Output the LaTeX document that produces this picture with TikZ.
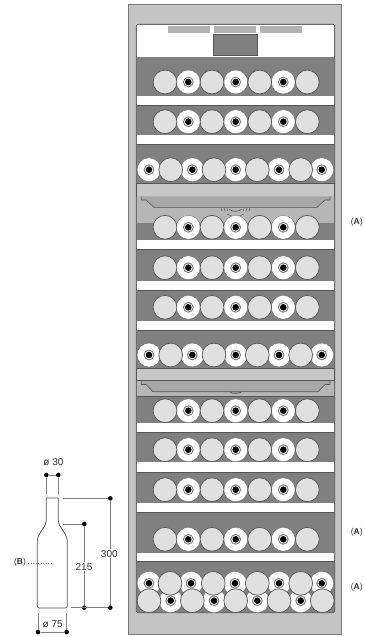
\documentclass[tikz,border=0pt]{standalone}
\usepackage{fontspec}
\setmainfont{Liberation Sans}
\definecolor{outerc}{HTML}{C4C4C4}
\definecolor{darkc}{HTML}{808080}
\definecolor{lightc}{HTML}{E0E0E0}
\definecolor{bandc}{HTML}{C8C8C8}
\definecolor{lowc}{HTML}{B6B6B6}
\definecolor{trayc}{HTML}{A8A8A8}
\definecolor{linec}{HTML}{555555}
\definecolor{dimc}{HTML}{808080}
\tikzset{
 dimdot/.style={circle,fill=black,inner sep=0pt,minimum size=4.6pt},
 dimline/.style={draw=dimc,line width=.6pt},
 lab/.style={font=\fontsize{10}{12}\selectfont,text=black!80,inner sep=1pt},
 sidelab/.style={font=\fontsize{8.5}{10}\selectfont,text=black!80,inner sep=0pt},
}
\newcommand{\myfullb}[2]{\fill[lightc,draw=linec,line width=.7pt] (#1,#2) circle[radius=11.9];}
\newcommand{\myendb}[2]{%
 \fill[white,draw=darkc!80!black,line width=.3pt] (#1,#2) circle[radius=11.9];
 \fill[darkc] (#1,#2) circle[radius=5.4];
 \fill[white] (#1,#2) circle[radius=4.2];
 \fill[black] (#1,#2) circle[radius=3.3];}
\newcommand{\rowseven}[1]{%
 \foreach \x in {188.3,235.7,283.3} {\myendb{\x}{#1}}
 \foreach \x in {165,212,259.7,307.3} {\myfullb{\x}{#1}}}
\newcommand{\rownine}[1]{%
 \foreach \x in {149,192.3,235.7,279,321.7} {\myendb{\x}{#1}}
 \foreach \x in {170.7,214,257.3,300.7} {\myfullb{\x}{#1}}}
\begin{document}
\begin{tikzpicture}[x=1pt,y=-1pt]
\useasboundingbox (0,0) rectangle (364,637);
% cabinet
\fill[outerc,draw=linec!80,line width=.7pt] (128.7,4) rectangle (341.7,634);
\fill[darkc,draw=linec,line width=.7pt,rounded corners=1.5pt] (136.3,24.3) rectangle (334.7,612.7);
% top panel
\fill[white] (136.8,24.8) rectangle (334.2,57.3);
\foreach \a/\b in {168/210.3,214.3/256.3,260.3/302.3} {\fill[black!30] (\a,26) rectangle (\b,33);}
\fill[darkc,draw=linec,line width=.5pt] (213.7,34) rectangle (257.3,55.7);
% white shelves
\foreach \a/\b in {95.5/104.8,135/144.3,239.7/249.5,280.5/290,320.5/330,423.3/432.7,462.3/472,502.7/511.9,552.6/561.7} {
 \fill[white] (136.8,\a) rectangle (334.2,\b);
 \draw[linec,line width=.6pt] (136.3,\b) -- (334.7,\b);}
% light bands and trays
\fill[bandc,draw=linec,line width=.6pt] (136.3,183.6) rectangle (334.7,196);
\fill[lowc] (136.8,196.4) rectangle (334.2,223.3);
\fill[trayc,draw=linec,line width=.6pt] (141.3,196.5) -- (141.3,200) -- (146,200) -- (154,207.3) -- (317,207.3) -- (325,200) -- (330,200) -- (330,196.5);
\fill[bandc,draw=linec,line width=.6pt] (136.3,368.3) rectangle (334.7,380.5);
\fill[lowc] (136.8,380.9) rectangle (334.2,396.3);
\draw[linec,line width=.6pt] (136.3,396.3) -- (334.7,396.3);
\fill[trayc,draw=linec,line width=.6pt] (141.3,381) -- (141.3,384.5) -- (146,384.5) -- (153,391.7) -- (318,391.7) -- (325,384.5) -- (330,384.5) -- (330,381);
\draw[linec,line width=.8pt] (230,392.3) to[bend right=20] (241,392.3);
% sensor arcs
\draw[linec,line width=.7pt] (229.5,209.5) to[bend right=30] (241.5,209.5);
\draw[linec,line width=.5pt] (221,208) -- (222,211) (224,208) -- (225,211) (227,208) -- (227.5,211)
 (244,208) -- (243.5,211) (247,208) -- (246,211) (250,208) -- (249,211);
\draw[linec,line width=.5pt] (227,214) to[bend right=30] (244,214);
% bottles
\foreach \y in {82,121.7,227.3,267.7,307.3,410.7,449.7,489.7,539.3} {\rowseven{\y}}
\foreach \y in {169.7,355} {\rownine{\y}}
% stacked rows
\foreach \x in {149,191,235,279,321.7} {\myendb{\x}{583.3}}
\foreach \x in {170.7,214,257.3,300.7} {\myendb{\x}{600.7}}
\foreach \x in {170,213.3,257.3,300.7} {\myfullb{\x}{583.3}}
\foreach \x in {149,192.3,235.7,279,322.3} {\myfullb{\x}{600.7}}
% labels A
\node[sidelab] (a1) at (356.7,222) {(\textbf{A})};
\node[sidelab] (a2) at (356.7,532) {(\textbf{A})};
\node[sidelab] (a3) at (356.7,587.7) {(\textbf{A})};
% bottle
\draw[linec,line width=.8pt,fill=white,line join=round]
 (52.3,498) -- (46.3,498) -- (46.3,521) .. controls (46.3,527) and (38,532) .. (37.3,541) -- (37.3,606) .. controls (37.3,607.5) and (38,608) .. (39.5,608) -- (65,608) .. controls (66.5,608) and (67.3,607.5) .. (67.3,606) -- (67.3,541) .. controls (66.6,532) and (58.3,527) .. (58.3,521) -- (58.3,498) -- cycle;
% dimensions
\node[dimdot] (n1) at (46.3,475) {};
\node[dimdot] (n2) at (58.3,475) {};
\coordinate (n1e) at (46.3,493.5);
\coordinate (n2e) at (58.3,493.5);
\draw[dimline] (n1) -- (n1e) (n2) -- (n2e) (n1) -- (n2);
\node[lab] (t30) at (53.5,462) {ø 30};
\node[dimdot] (h1) at (110.3,498.3) {};
\node[dimdot] (h2) at (110.3,607.7) {};
\node[dimdot] (m1) at (84.3,524) {};
\node[dimdot] (m2) at (84.3,607.7) {};
\coordinate (h1s) at (62.7,498.3);
\coordinate (m1s) at (63.3,524);
\coordinate (bs) at (71,607.7);
\draw[dimline] (h1s) -- (h1) (m1s) -- (m1) (bs) -- (h2) (h1) -- (h2) (m1) -- (m2);
\node[lab,fill=white] (t300) at (109.3,553.7) {300};
\node[lab,fill=white] (t215) at (84,566.7) {215};
\node[dimdot] (b1) at (38,632) {};
\node[dimdot] (b2) at (66.7,632) {};
\coordinate (b1e) at (38,613.3);
\coordinate (b2e) at (66.7,613.3);
\draw[dimline] (b1) -- (b1e) (b2) -- (b2e) (b1) -- (b2);
\node[lab,fill=white] (t75) at (52.7,624.3) {ø 75};
\node[sidelab] (tb) at (20,562.3) {(\textbf{B})};
\coordinate (bd) at (51.7,563);
\draw[dimc,dotted,line width=.5pt] (28.3,563) -- (bd);
\end{tikzpicture}
\end{document}
